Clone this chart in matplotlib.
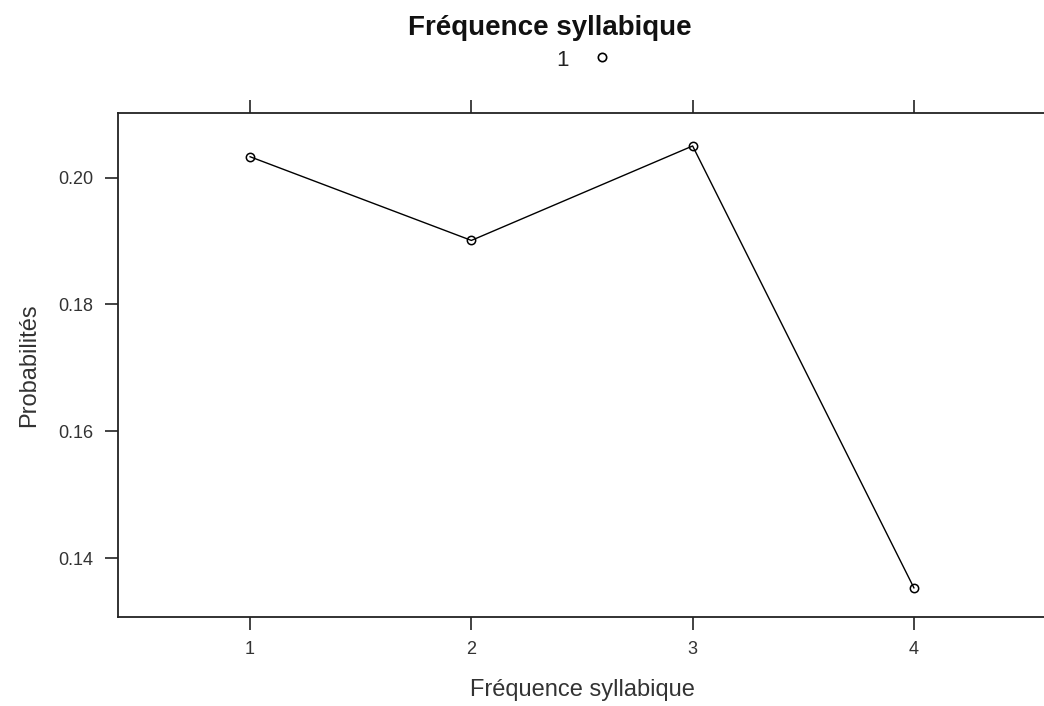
import matplotlib
matplotlib.use("Agg")
import matplotlib.pyplot as plt
from matplotlib.lines import Line2D

plt.rcParams['font.family'] = ['Liberation Sans', 'DejaVu Sans']

x_labels = ["1", "2", "3", "4"]
x_vals = [1, 2, 3, 4]
probs = [0.2033, 0.1901, 0.2050, 0.1353]
y_ticks = [0.14, 0.16, 0.18, 0.20]
y_tick_labels = ["0.14", "0.16", "0.18", "0.20"]

fig = plt.figure(figsize=(10.44, 7.06), dpi=100)
ax = fig.add_axes([118/1044, 1 - 617/706, (1046 - 118)/1044, (617 - 113)/706])

ax.plot(x_vals, probs, color='black', lw=1.0, marker='o', markersize=6,
        markerfacecolor='none', markeredgecolor='black', markeredgewidth=1.1)

ax.set_xlim(0.403, 4.597)
ax.set_ylim(0.1307, 0.2102)
ax.set_xticks(x_vals)
ax.set_xticklabels(x_labels)
ax.set_yticks(y_ticks)
ax.set_yticklabels(y_tick_labels)
ax.tick_params(axis='both', direction='out', length=9.5, width=1.2, labelsize=13,
               colors='#222222', labelcolor='#333333')
ax.tick_params(axis='y', pad=8)
ax.tick_params(axis='x', pad=8, top=True, labeltop=False)
for s in ax.spines.values():
    s.set_linewidth(1.3)
    s.set_color('#222222')

ax.set_xlabel("Fréquence syllabique", fontsize=17, labelpad=15, color='#333333')
ax.set_ylabel("Probabilités", fontsize=17, labelpad=13, color='#333333')

fig.text(550/1044, 1 - 28/706, "Fréquence syllabique", fontsize=20, fontweight='bold',
         ha='center', va='center', color='#111111')
fig.text(562/1044, 1 - 60/706, "1", fontsize=16, ha='center', va='center', color='#222222')
fig.add_artist(Line2D([602/1044], [1 - 57/706], marker='o', markersize=6,
                      markerfacecolor='none', markeredgecolor='black',
                      markeredgewidth=1.2, transform=fig.transFigure))

fig.savefig("out.png", dpi=100)
